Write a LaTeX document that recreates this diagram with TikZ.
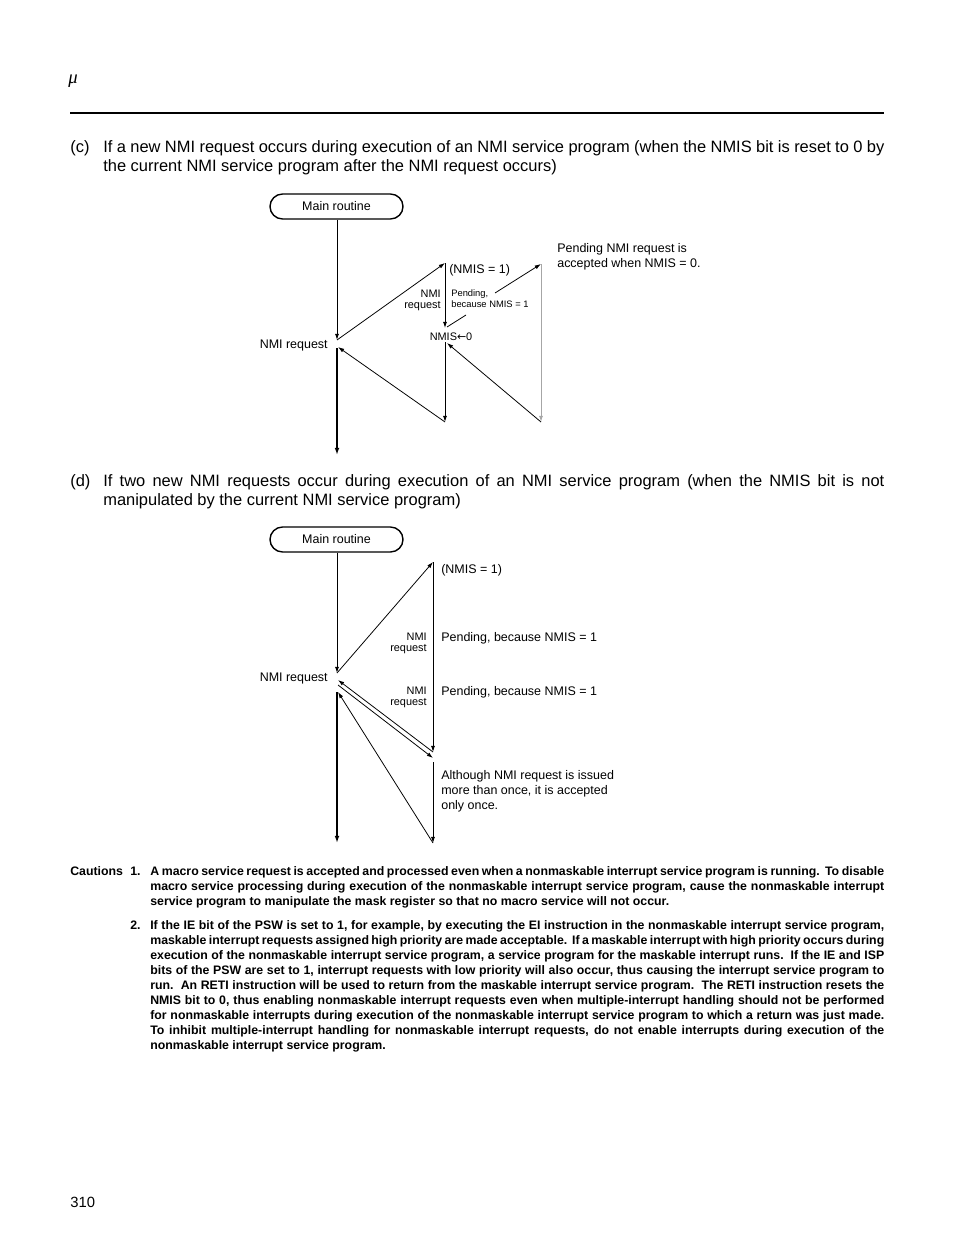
\documentclass[tikz,border=0pt]{standalone}
\usepackage{fontspec}
\setmainfont{Liberation Sans}
\newfontfamily\muserif{Liberation Serif}
\newfontfamily\arrowfont{DejaVu Sans}
\usetikzlibrary{arrows.meta}
\newcommand\capjust[1]{\makebox[500.9pt][s]{#1}}
\newcommand\cautjust[1]{\makebox[470.7pt][s]{#1}}
\begin{document}
\begin{tikzpicture}[x=0.6413pt,y=-0.6413pt,
  conn/.style={line width=0.5pt,-{Latex[length=4pt,width=2.6pt]}},
  connlight/.style={conn,line width=0.6pt,draw=black!35},
  connthick/.style={line width=1pt,-{Latex[length=4.5pt,width=3pt]}},
  plainline/.style={line width=0.5pt},
  routine/.style={draw,line width=0.9pt,rounded corners=8pt,minimum width=85.3pt,minimum height=16pt,inner sep=0pt,font=\fontsize{8}{9.6}\selectfont},
  lbl/.style={inner sep=0pt,font=\fontsize{8}{9.6}\selectfont},
  lbls/.style={inner sep=0pt,font=\fontsize{7}{8.4}\selectfont},
  lblt/.style={inner sep=0pt,font=\fontsize{6}{7.2}\selectfont},
  captxt/.style={inner sep=0pt,anchor=base west,font=\fontsize{10.55}{12.2}\selectfont},
  cauttxt/.style={inner sep=0pt,anchor=base west,font=\fontsize{7.9}{9.6}\selectfont\bfseries},
]
\useasboundingbox (0,0) rectangle (954,1235);

% header
\node[anchor=base west,inner sep=0pt,font=\fontsize{12}{14}\selectfont\muserif\itshape] (mu) at (68,84) {μ};
\draw[line width=1.6pt] (70,113) -- (884,113);

% caption (c)
\node[captxt] (cc0) at (70,152.5) {(c)};
\node[captxt] (cc1) at (103,152.5) {\capjust{If a new NMI request occurs during execution of an NMI service program (when the NMIS bit is reset to 0 by}};
\node[captxt] (cc2) at (103,171.5) {the current NMI service program after the NMI request occurs)};

% diagram (c)
\node[routine] (mainc) at (336.5,206.5) {Main routine};
\coordinate (cReq) at (337,340);
\coordinate (cTop1) at (445,263);
\coordinate (cNmis) at (445,328);
\coordinate (cMid1) at (445,342);
\coordinate (cBot1) at (445,422);
\coordinate (cRet1) at (338,347);
\coordinate (cGapS) at (447,327);
\coordinate (cGapA) at (466,315);
\coordinate (cGapB) at (495,293);
\coordinate (cTop2) at (541,264);
\coordinate (cBot2) at (541,422);
\coordinate (cRet2) at (447,343);
\coordinate (cMainS) at (337,348);
\coordinate (cMainE) at (337,455);

\draw[conn] (mainc.south -| cReq) -- (cReq);
\draw[conn] (cReq) -- (cTop1);
\draw[conn] (cTop1) -- (cNmis);
\draw[plainline] (cGapS) -- (cGapA);
\draw[conn] (cGapB) -- (cTop2);
\draw[conn] (cMid1) -- (cBot1);
\draw[conn] (cBot1) -- (cRet1);
\draw[connlight] (cTop2) -- (cBot2);
\draw[conn] (cBot2) -- (cRet2);
\draw[connthick] (cMainS) -- (cMainE);

\node[lbl,anchor=base east] (cReqL) at (328,348) {NMI request};
\node[lbl,anchor=base west] (cNmis1) at (449,273.5) {(NMIS = 1)};
\node[lbls,anchor=base east] (cNmiA) at (441,297) {NMI};
\node[lbls,anchor=base east] (cNmiB) at (441,308.5) {request};
\node[lblt,anchor=base west] (cPendA) at (451,296.5) {Pending,};
\node[lblt,anchor=base west] (cPendB) at (451,307.5) {because NMIS = 1};
\node[lbls,anchor=base] (cNmis0) at (451,340) {NMIS{\arrowfont←}0};
\node[lbl,anchor=base west] (cAccA) at (557,252.5) {Pending NMI request is};
\node[lbl,anchor=base west] (cAccB) at (557,267.5) {accepted when NMIS = 0.};

% caption (d)
\node[captxt] (dc0) at (70,486.5) {(d)};
\node[captxt] (dc1) at (103,486.5) {\capjust{If two new NMI requests occur during execution of an NMI service program (when the NMIS bit is not}};
\node[captxt] (dc2) at (103,505.5) {manipulated by the current NMI service program)};

% diagram (d)
\node[routine] (maind) at (336.5,539.5) {Main routine};
\coordinate (dReq) at (337,673);
\coordinate (dTop) at (433,562);
\coordinate (dBot1) at (433,752);
\coordinate (dRet1) at (338,680);
\coordinate (dAcc) at (338,685);
\coordinate (dAccE) at (433,758);
\coordinate (dMid) at (433,762);
\coordinate (dBot2) at (433,843);
\coordinate (dRet2) at (338,692);
\coordinate (dMainS) at (337,692);
\coordinate (dMainE) at (337,843);

\draw[conn] (maind.south -| dReq) -- (dReq);
\draw[conn] (dReq) -- (dTop);
\draw[conn] (dTop) -- (dBot1);
\draw[conn] (dBot1) -- (dRet1);
\draw[conn] (dAcc) -- (dAccE);
\draw[conn] (dMid) -- (dBot2);
\draw[conn] (dBot2) -- (dRet2);
\draw[connthick] (dMainS) -- (dMainE);

\node[lbl,anchor=base east] (dReqL) at (328,681.5) {NMI request};
\node[lbl,anchor=base west] (dNmis1) at (441,573.5) {(NMIS = 1)};
\node[lbls,anchor=base east] (dNmiA1) at (427,640) {NMI};
\node[lbls,anchor=base east] (dNmiB1) at (427,651.5) {request};
\node[lbl,anchor=base west] (dPend1) at (441,641.5) {Pending, because NMIS = 1};
\node[lbls,anchor=base east] (dNmiA2) at (427,694) {NMI};
\node[lbls,anchor=base east] (dNmiB2) at (427,705.5) {request};
\node[lbl,anchor=base west] (dPend2) at (441,695.5) {Pending, because NMIS = 1};
\node[lbl,anchor=base west] (dNoteA) at (441,779.5) {Although NMI request is issued};
\node[lbl,anchor=base west] (dNoteB) at (441,794.5) {more than once, it is accepted};
\node[lbl,anchor=base west] (dNoteC) at (441,809.5) {only once.};

% cautions
\node[cauttxt] (cautL) at (70,875.5) {Cautions};
\node[cauttxt] (caut1n) at (130,875.5) {1.};
\node[cauttxt] (caut1a) at (150,875.5) {\cautjust{A macro service request is accepted and processed even when a nonmaskable interrupt service program is running.\ \ To disable}};
\node[cauttxt] (caut1b) at (150,890.5) {\cautjust{macro service processing during execution of the nonmaskable interrupt service program, cause the nonmaskable interrupt}};
\node[cauttxt] (caut1c) at (150,905.5) {service program to manipulate the mask register so that no macro service will not occur.};

\node[cauttxt] (caut2n) at (130,929.5) {2.};
\node[cauttxt] (caut2a) at (150,929.5) {\cautjust{If the IE bit of the PSW is set to 1, for example, by executing the EI instruction in the nonmaskable interrupt service program,}};
\node[cauttxt] (caut2b) at (150,944.5) {\cautjust{maskable interrupt requests assigned high priority are made acceptable.\ \ If a maskable interrupt with high priority occurs during}};
\node[cauttxt] (caut2c) at (150,959.5) {\cautjust{execution of the nonmaskable interrupt service program, a service program for the maskable interrupt runs.\ \ If the IE and ISP}};
\node[cauttxt] (caut2d) at (150,974.5) {\cautjust{bits of the PSW are set to 1, interrupt requests with low priority will also occur, thus causing the interrupt service program to}};
\node[cauttxt] (caut2e) at (150,989.5) {\cautjust{run.\ \ An RETI instruction will be used to return from the maskable interrupt service program.\ \ The RETI instruction resets the}};
\node[cauttxt] (caut2f) at (150,1004.5) {\cautjust{NMIS bit to 0, thus enabling nonmaskable interrupt requests even when multiple-interrupt handling should not be performed}};
\node[cauttxt] (caut2g) at (150,1019.5) {\cautjust{for nonmaskable interrupts during execution of the nonmaskable interrupt service program to which a return was just made.}};
\node[cauttxt] (caut2h) at (150,1034.5) {\cautjust{To inhibit multiple-interrupt handling for nonmaskable interrupt requests, do not enable interrupts during execution of the}};
\node[cauttxt] (caut2i) at (150,1049.5) {nonmaskable interrupt service program.};

% page number
\node[anchor=base west,inner sep=0pt,font=\fontsize{9.5}{11}\selectfont] (pageno) at (70,1207.5) {310};
\end{tikzpicture}
\end{document}
